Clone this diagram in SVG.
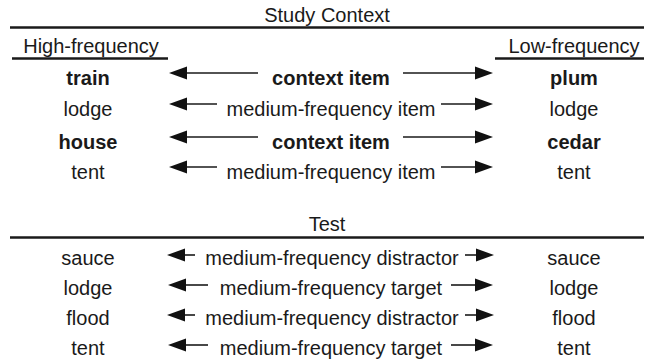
<svg xmlns="http://www.w3.org/2000/svg" xmlns:xlink="http://www.w3.org/1999/xlink" width="654" height="364" viewBox="0 0 654 364">
<defs>
<path id="hl" d="M0,0 L18,-6.5 L18,6.5 z" fill="#111"/>
<path id="hr" d="M0,0 L-18,-6.5 L-18,6.5 z" fill="#111"/>
<style>
text{font-family:"Liberation Sans",Arial,Helvetica,sans-serif;font-size:20px;fill:#1a1a1a;text-anchor:middle}
.b{font-weight:bold}
.rule{stroke:#1a1a1a;stroke-width:2.5}
.ar{stroke:#1a1a1a;stroke-width:1.6}
</style>
</defs>
<rect width="654" height="364" fill="#fff"/>
<g id="headers">
<text x="327" y="22">Study Context</text>
<line class="rule" x1="10" y1="27.5" x2="644" y2="27.5"/>
<text x="91" y="53">High-frequency</text>
<line class="rule" x1="12" y1="58.5" x2="168" y2="58.5"/>
<text x="574" y="53">Low-frequency</text>
<line class="rule" x1="495" y1="58.5" x2="644" y2="58.5"/>
<text x="327" y="231">Test</text>
<line class="rule" x1="10" y1="237.5" x2="644" y2="237.5"/>
</g>
<g id="study-row1"><text class="b" x="88" y="85">train</text><text class="b" x="331" y="85">context item</text><text class="b" x="574" y="85">plum</text></g>
<g id="study-row2"><text x="88" y="116">lodge</text><text x="331" y="116">medium-frequency item</text><text x="574" y="116">lodge</text></g>
<g id="study-row3"><text class="b" x="88" y="149">house</text><text class="b" x="331" y="149">context item</text><text class="b" x="574" y="149">cedar</text></g>
<g id="study-row4"><text x="88" y="179">tent</text><text x="331" y="179">medium-frequency item</text><text x="574" y="179">tent</text></g>
<g id="test-row1"><text x="88" y="265">sauce</text><text x="332" y="265">medium-frequency distractor</text><text x="574" y="265">sauce</text></g>
<g id="test-row2"><text x="88" y="295">lodge</text><text x="331" y="295">medium-frequency target</text><text x="574" y="295">lodge</text></g>
<g id="test-row3"><text x="88" y="325">flood</text><text x="332" y="325">medium-frequency distractor</text><text x="574" y="325">flood</text></g>
<g id="test-row4"><text x="88" y="355">tent</text><text x="331" y="355">medium-frequency target</text><text x="574" y="355">tent</text></g>
<g id="connectors">
<line class="ar" x1="258" y1="73" x2="182" y2="73"/><use xlink:href="#hl" href="#hl" x="169" y="73"/>
<line class="ar" x1="403" y1="73" x2="480" y2="73"/><use xlink:href="#hr" href="#hr" x="493" y="73"/>
<line class="ar" x1="217" y1="104" x2="182" y2="104"/><use xlink:href="#hl" href="#hl" x="169" y="104"/>
<line class="ar" x1="441" y1="104" x2="480" y2="104"/><use xlink:href="#hr" href="#hr" x="493" y="104"/>
<line class="ar" x1="258" y1="137" x2="182" y2="137"/><use xlink:href="#hl" href="#hl" x="169" y="137"/>
<line class="ar" x1="403" y1="137" x2="480" y2="137"/><use xlink:href="#hr" href="#hr" x="493" y="137"/>
<line class="ar" x1="217" y1="167" x2="182" y2="167"/><use xlink:href="#hl" href="#hl" x="169" y="167"/>
<line class="ar" x1="441" y1="167" x2="480" y2="167"/><use xlink:href="#hr" href="#hr" x="493" y="167"/>
<line class="ar" x1="195" y1="255" x2="180" y2="255"/><use xlink:href="#hl" href="#hl" x="167" y="255"/>
<line class="ar" x1="465" y1="255" x2="481" y2="255"/><use xlink:href="#hr" href="#hr" x="494" y="255"/>
<line class="ar" x1="208" y1="285" x2="181" y2="285"/><use xlink:href="#hl" href="#hl" x="168" y="285"/>
<line class="ar" x1="451" y1="285" x2="480" y2="285"/><use xlink:href="#hr" href="#hr" x="493" y="285"/>
<line class="ar" x1="195" y1="315" x2="180" y2="315"/><use xlink:href="#hl" href="#hl" x="167" y="315"/>
<line class="ar" x1="465" y1="315" x2="481" y2="315"/><use xlink:href="#hr" href="#hr" x="494" y="315"/>
<line class="ar" x1="208" y1="345" x2="181" y2="345"/><use xlink:href="#hl" href="#hl" x="168" y="345"/>
<line class="ar" x1="451" y1="345" x2="480" y2="345"/><use xlink:href="#hr" href="#hr" x="493" y="345"/>
</g>
</svg>
